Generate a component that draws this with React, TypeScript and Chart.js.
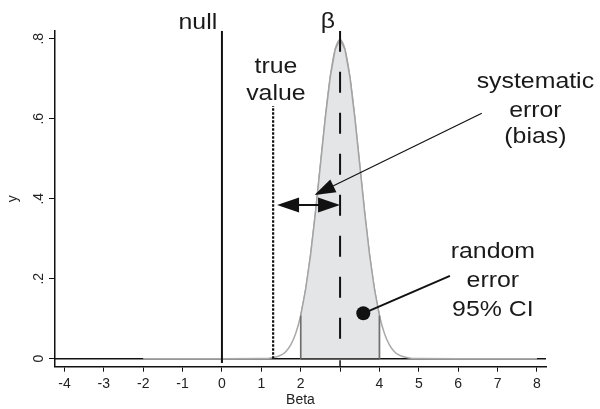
import React, { useEffect, useRef } from 'react';
import { Chart, registerables } from 'chart.js';

Chart.register(...registerables);

// ---- axis ticks ----
const xTickValues = [-4, -3, -2, -1, 0, 1, 2, 3, 4, 5, 6, 7, 8];
const xTickLabels = ['-4', '-3', '-2', '-1', '0', '1', '2', '', '4', '5', '6', '7', '8'];
const yTickValues = [0, 0.2, 0.4, 0.6, 0.8];
const yTickLabels = ['0', '.2', '.4', '.6', '.8'];

// ---- density curve ----
const curveX = [-2, 0, 1, 1.25, 1.5, 1.625, 1.75, 1.875, 2, 2.125, 2.25, 2.375, 2.5, 2.625, 2.75, 2.875, 3,
  3.125, 3.25, 3.375, 3.5, 3.625, 3.75, 3.875, 4, 4.125, 4.25, 4.375, 4.5, 4.75, 5, 6, 8];
const curveY = [0, 0, 0.0003, 0.0017, 0.0089, 0.0182, 0.035, 0.0635, 0.108, 0.173, 0.259, 0.365, 0.484, 0.602, 0.704, 0.773, 0.798,
  0.773, 0.704, 0.602, 0.484, 0.365, 0.259, 0.173, 0.108, 0.0635, 0.035, 0.0182, 0.0089, 0.0017, 0.0003, 0, 0];

// ---- shaded 95% CI area ----
const fillX = [2, 2, 2.125, 2.25, 2.375, 2.5, 2.625, 2.75, 2.875, 3, 3.125, 3.25, 3.375, 3.5, 3.625, 3.75, 3.875, 4, 4];
const fillY = [0, 0.108, 0.173, 0.259, 0.365, 0.484, 0.602, 0.704, 0.773, 0.798, 0.773, 0.704, 0.602, 0.484, 0.365, 0.259, 0.173, 0.108, 0];

// ---- reference lines ----
const axisRange = { xMin: -4.24, xMax: 8.23, yMin: -0.02, yMax: 0.82 };
const nullLineX = [0, 0];
const nullLineY = [-0.011, 0.82];
const trueLineX = [1.3, 1.3];
const trueLineY = [0, 0.632];
const betaLineX = [3, 3];
const betaLineY = [0.82, 0];
const betaTickX = [3, 3];
const betaTickY = [-0.004, -0.02];
const baseLineX = [-4.24, 8.23];
const baseLineY = [0, 0];

// ---- annotations (data coordinates) ----
const biasArrow = { x1: 1.4, x2: 3, y: 0.384 };
const sysArrow = { fromX: 6.6, fromY: 0.6135, toX: 2.35, toY: 0.409 };
const randomPointer = { fromX: 5.79, fromY: 0.207, dotX: 3.59, dotY: 0.1135 };

type Label = { text: string; x: number; y: number; align: CanvasTextAlign };
const labels: Label[] = [
  { text: 'null', x: -0.12, y: 0.8235, align: 'right' },
  { text: 'β', x: 2.87, y: 0.827, align: 'right' },
  { text: 'true', x: 1.37, y: 0.715, align: 'center' },
  { text: 'value', x: 1.37, y: 0.647, align: 'center' },
  { text: 'systematic', x: 7.96, y: 0.676, align: 'center' },
  { text: 'error', x: 7.96, y: 0.605, align: 'center' },
  { text: '(bias)', x: 7.96, y: 0.5385, align: 'center' },
  { text: 'random', x: 6.88, y: 0.251, align: 'center' },
  { text: 'error', x: 6.88, y: 0.179, align: 'center' },
  { text: '95% CI', x: 6.88, y: 0.108, align: 'center' },
];

const FONT = '"Liberation Sans", Arial, Helvetica, sans-serif';

const pts = (xs: number[], ys: number[]) => xs.map((x, i) => ({ x, y: ys[i] }));

function arrowHead(ctx: CanvasRenderingContext2D, tx: number, ty: number, fx: number, fy: number, len: number, hw: number) {
  const a = Math.atan2(ty - fy, tx - fx);
  const dx = Math.cos(a), dy = Math.sin(a);
  const bx = tx - len * dx, by = ty - len * dy;
  ctx.beginPath();
  ctx.moveTo(tx, ty);
  ctx.lineTo(bx - hw * dy, by + hw * dx);
  ctx.lineTo(bx + hw * dy, by - hw * dx);
  ctx.closePath();
  ctx.fill();
}

const annotPlugin = {
  id: 'annot',
  afterDatasetsDraw(chart: any) {
    const ctx: CanvasRenderingContext2D = chart.ctx;
    const xs = chart.scales.x, ys = chart.scales.y;
    const X = (v: number) => xs.getPixelForValue(v);
    const Y = (v: number) => ys.getPixelForValue(v);
    ctx.save();
    ctx.fillStyle = '#111';
    ctx.strokeStyle = '#111';

    // double arrow (systematic error)
    const ax1 = X(biasArrow.x1), ax2 = X(biasArrow.x2), ay = Y(biasArrow.y);
    ctx.lineWidth = 2;
    ctx.beginPath();
    ctx.moveTo(ax1 + 10, ay);
    ctx.lineTo(ax2 - 10, ay);
    ctx.stroke();
    arrowHead(ctx, ax1, ay, ax2, ay, 22, 7.5);
    arrowHead(ctx, ax2, ay, ax1, ay, 22, 7.5);

    // thin pointer arrow
    const sx1 = X(sysArrow.fromX), sy1 = Y(sysArrow.fromY), sx2 = X(sysArrow.toX), sy2 = Y(sysArrow.toY);
    ctx.lineWidth = 1.2;
    ctx.beginPath();
    ctx.moveTo(sx1, sy1);
    ctx.lineTo(sx2 + (sx1 - sx2) * 0.08, sy2 + (sy1 - sy2) * 0.08);
    ctx.stroke();
    arrowHead(ctx, sx2, sy2, sx1, sy1, 21, 7);

    // random error pointer
    const rx1 = X(randomPointer.fromX), ry1 = Y(randomPointer.fromY), rx2 = X(randomPointer.dotX), ry2 = Y(randomPointer.dotY);
    ctx.lineWidth = 2;
    ctx.beginPath();
    ctx.moveTo(rx1, ry1);
    ctx.lineTo(rx2, ry2);
    ctx.stroke();
    ctx.beginPath();
    ctx.arc(rx2, ry2, 7, 0, Math.PI * 2);
    ctx.fill();

    // texts
    ctx.font = '22px ' + FONT;
    ctx.fillStyle = '#1a1a1a';
    ctx.textBaseline = 'alphabetic';
    for (const l of labels) {
      ctx.save();
      ctx.translate(X(l.x), Y(l.y));
      ctx.scale(1.13, 1);
      ctx.textAlign = l.align;
      ctx.fillText(l.text, 0, 0);
      ctx.restore();
    }
    ctx.restore();
  },
};

export default function App() {
  const ref = useRef<HTMLCanvasElement>(null);
  useEffect(() => {
    const canvas = ref.current!;
    const line = (data: any[], color: string, width: number, extra: any = {}) => ({
      data, showLine: true, pointRadius: 0, borderColor: color, borderWidth: width, fill: false, ...extra,
    });
    // listed bottom-most first; `order` makes later entries draw on top
    const layers = [
      line(pts(baseLineX, baseLineY), '#111', 1.5),
      line(pts(curveX, curveY), '#a9a9a9', 1.5, { cubicInterpolationMode: 'monotone' }),
      line(pts(fillX, fillY), '#a3a3a3', 1.5, { fill: 'origin', backgroundColor: '#e4e5e7' }),
      line(pts([2, 2], [0, 0.108]), '#6e6e6e', 1.5),
      line(pts([4, 4], [0, 0.108]), '#6e6e6e', 1.5),
      line(pts([2, 4], [0, 0]), '#444', 1.5),
      line(pts(nullLineX, nullLineY), '#111', 2),
      line(pts(trueLineX, trueLineY), '#111', 2.2, { borderDash: [2.5, 1.5] }),
      line(pts(betaLineX, betaLineY), '#111', 2, { borderDash: [21, 20] }),
      line(pts(betaTickX, betaTickY), '#111', 1.5),
    ].map((d, i, arr) => ({ ...d, order: arr.length - i }));
    const chart = new Chart(canvas, {
      type: 'scatter',
      data: { datasets: layers as any },
      options: {
        responsive: false,
        animation: false,
        events: [],
        layout: { padding: { top: 30.7, right: 54, left: 0, bottom: 0 } },
        plugins: { legend: { display: false }, tooltip: { enabled: false } },
        scales: {
          x: {
            type: 'linear',
            min: axisRange.xMin,
            max: axisRange.xMax,
            afterBuildTicks: (s: any) => { s.ticks = xTickValues.map((v) => ({ value: v })); },
            afterFit: (s: any) => { s.height = 42.3; },
            grid: { drawOnChartArea: false, drawTicks: true, tickLength: 5, color: '#111', lineWidth: 1 },
            border: { display: true, color: '#111', width: 1.5 },
            ticks: {
              padding: 4,
              color: '#222',
              font: { family: FONT, size: 14 },
              maxRotation: 0,
              autoSkip: false,
              callback: (v: any) => { const i = xTickValues.indexOf(Number(v)); return i >= 0 ? xTickLabels[i] : ''; },
            },
            title: { display: true, text: 'Beta', color: '#222', font: { family: FONT, size: 14 }, padding: { top: 0, bottom: 0 } },
          },
          y: {
            type: 'linear',
            min: axisRange.yMin,
            max: axisRange.yMax,
            afterBuildTicks: (s: any) => { s.ticks = yTickValues.map((v) => ({ value: v })); },
            afterFit: (s: any) => { s.width = 55; },
            grid: { drawOnChartArea: false, drawTicks: true, tickLength: 6, color: '#111', lineWidth: 1 },
            border: { display: true, color: '#111', width: 1.5 },
            ticks: {
              padding: 4,
              color: '#222',
              minRotation: 90,
              maxRotation: 90,
              crossAlign: 'center',
              autoSkip: false,
              font: { family: FONT, size: 14 },
              callback: (v: any) => { const i = yTickValues.findIndex((t) => Math.abs(t - Number(v)) < 1e-9); return i >= 0 ? yTickLabels[i] : ''; },
            },
            title: { display: true, text: 'y', color: '#222', font: { family: FONT, size: 14 }, padding: { top: 5, bottom: 0 } },
          },
        },
      } as any,
      plugins: [annotPlugin],
    });
    return () => chart.destroy();
  }, []);
  return (
    <div style={{ position: 'absolute', left: 0, top: 0, width: 600, height: 409, background: '#fff' }}>
      <canvas ref={ref} width={600} height={409} style={{ display: 'block', width: 600, height: 409 }} />
    </div>
  );
}
